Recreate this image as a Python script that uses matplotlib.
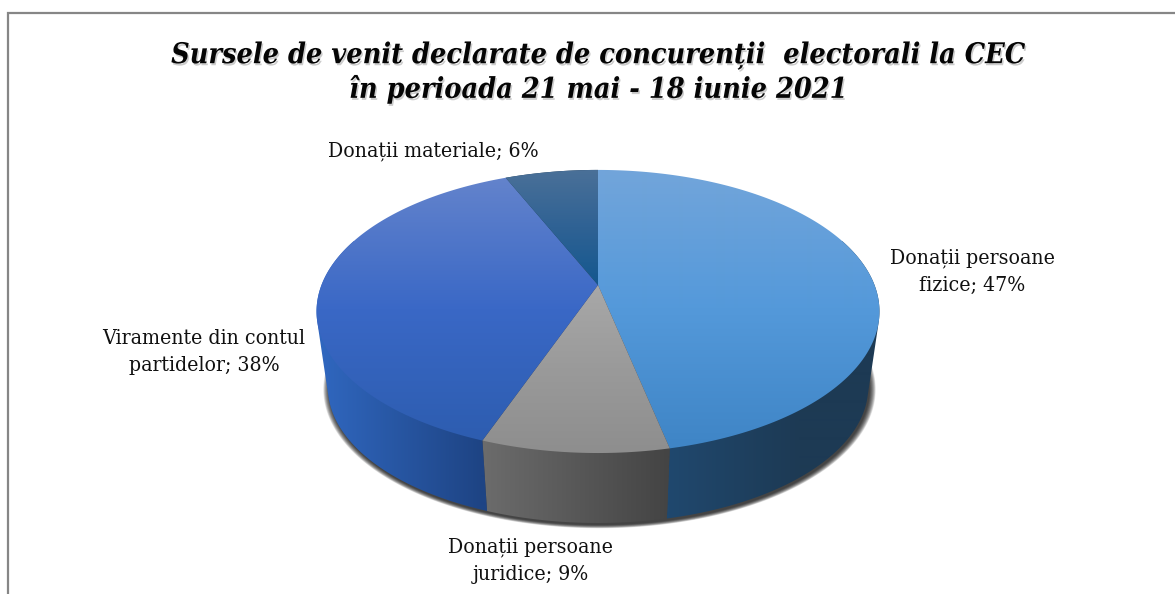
import numpy as np
import matplotlib
matplotlib.use("Agg")
import matplotlib.pyplot as plt
from matplotlib.patches import Polygon
import matplotlib.patheffects as pe
from matplotlib.colors import LinearSegmentedColormap as LSC

# data (slice sizes; labels show them rounded)
categories = ["Donații persoane\nfizice", "Donații persoane\njuridice",
              "Viramente din contul\npartidelor", "Donații materiale"]
values = [46.6, 9.0, 38.0, 6.4]
title = "Sursele de venit declarate de concurenții  electorali la CEC\nîn perioada 21 mai - 18 iunie 2021"

# style
top_cols = [("#72a5da", "#5499da", "#3f85c6"), ("#a8a8a8", "#9a9a9a", "#8e8e8e"),
            ("#6383cc", "#3a68c6", "#2d5db0"), ("#4a7098", "#2f6294", "#14588f")]
top_rng = [(170, 447), (285, 452), (178, 440), (170, 285)]
side_cols = [("#20486e", "#1d3a54"), ("#6c6c6c", "#444444"), ("#3067bf", "#1e4484"), ("#1d3a54", "#1d3a54")]
side_rng = [(669, 800), (482, 669), (320, 482), (505, 598)]
label_pos = [(972, 272), (531, 561), (204, 352), (433, 151)]

CX, CY = 598, 285
A, B, K = 276.5, 136.6, 0.187
S, DY = 0.96, 76.7


def proj(theta):
    u, v = np.sin(theta), -np.cos(theta)
    return A * u / (1 - K * v), B * v / (1 - K * v)


def top_xy(theta):
    x, y = proj(theta)
    return CX + x, CY + y


def bot_xy(theta):
    x, y = proj(theta)
    return CX + S * x, CY + DY + S * y


def hull(pts):
    pts = sorted(map(tuple, pts))

    def half(seq):
        out = []
        for p in seq:
            while len(out) > 1 and ((out[-1][0] - out[-2][0]) * (p[1] - out[-2][1])
                                    - (out[-1][1] - out[-2][1]) * (p[0] - out[-2][0])) <= 0:
                out.pop()
            out.append(p)
        return out[:-1]
    return np.array(half(pts) + half(pts[::-1]))


fig = plt.figure(figsize=(11.75, 5.94), dpi=100)
ax = fig.add_axes([0, 0, 1, 1])
ax.set_xlim(0, 1175)
ax.set_ylim(594, 0)
ax.axis("off")


def grad_fill(poly, cols, rng, vertical=True, z=2):
    patch = Polygon(poly, closed=True, fc="none", ec="none", transform=ax.transData)
    ax.add_patch(patch)
    lo, hi = rng
    if vertical:
        yy = np.arange(0, 594) + .5
        img = np.clip((yy - lo) / (hi - lo), 0, 1)[:, None]
    else:
        xx = np.arange(0, 1175) + .5
        img = np.clip((xx - lo) / (hi - lo), 0, 1)[None, :]
    im = ax.imshow(img, extent=(0, 1175, 594, 0), cmap=LSC.from_list("g", cols), vmin=0, vmax=1,
                   aspect="auto", zorder=z, interpolation="bilinear")
    im.set_clip_path(patch)


# frame (left and top only)
ax.plot([7.5, 7.5, 1175], [594, 12.5, 12.5], color="#868686", lw=1.6, zorder=1, solid_joinstyle="miter")

# angles from values
fr = np.cumsum([0] + values) / sum(values) * 2 * np.pi

# soft shadow under the disc
th = np.linspace(0, 2 * np.pi, 400)
bx, by = bot_xy(th)
mx, my = bx.mean(), by.mean()
for grow in np.linspace(6, 0, 14):
    k = 1 + grow / 270
    ax.add_patch(Polygon(np.c_[mx + (bx - mx) * k + 1.5, my + (by - my) * k + 2], closed=True,
                         fc="k", ec="none", alpha=0.085, zorder=1.5))

# side walls: hull of the arcs gives the straight edge between top and bottom rims
for i in range(len(values)):
    if i == 0:
        a, b = np.radians(70), fr[1]
    elif i == 2:
        a, b = fr[2], np.radians(290)
    else:
        a, b = fr[i], fr[i + 1]
    t = np.linspace(a, b, 200)
    tx, ty = top_xy(t)
    bx, by = bot_xy(t)
    poly = hull(np.r_[np.c_[tx, ty], np.c_[bx, by]])
    grad_fill(poly, side_cols[i], side_rng[i], vertical=False, z=2)

# top faces
for i in range(len(values)):
    t = np.linspace(fr[i], fr[i + 1], 200)
    tx, ty = top_xy(t)
    poly = np.r_[[[CX, CY]], np.c_[tx, ty]]
    grad_fill(poly, top_cols[i], top_rng[i], vertical=True, z=3)

# labels
for name, v, (lx, ly) in zip(categories, values, label_pos):
    ax.text(lx, ly, f"{name}; {round(v)}%", ha="center", va="center", fontsize=15.2,
            family="DejaVu Serif", stretch="condensed", color="#111111", linespacing=1.55, zorder=5)

# title
ax.text(598.5, 72, title, ha="center", va="center", fontsize=20.6, family="DejaVu Serif",
        stretch="condensed", weight="bold", style="italic", color="#050505", linespacing=1.18, zorder=5,
        path_effects=[pe.withSimplePatchShadow(offset=(1, -1.5), shadow_rgbFace="k", alpha=0.2)])

fig.savefig("out.png", dpi=100, facecolor="white")
